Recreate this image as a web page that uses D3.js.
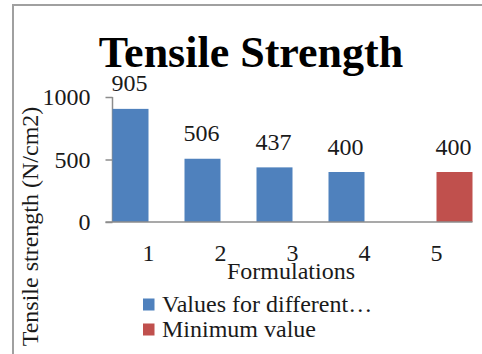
<!DOCTYPE html>
<html>
<head>
<meta charset="utf-8">
<script src="https://cdn.jsdelivr.net/npm/d3@7"></script>
<style>
  html, body { margin: 0; padding: 0; background: #fff; }
  svg { display: block; }
  text { font-family: "Liberation Serif", "Times New Roman", serif; fill: #1a1a1a; }
</style>
</head>
<body>
<svg id="chart" width="482" height="354"></svg>
<script>
// Tensile strength per formulation, with the minimum accepted value
const categories = ["1", "2", "3", "4", "5"];
const seriesNames = ["Values for different…", "Minimum value"];
const seriesColors = ["#4F81BD", "#C0504D"];
// one value per category and series; null = no bar
const formulationValues = [905, 506, 437, 400, null];
const minimumValues = [null, null, null, null, 400];
const yTicks = [0, 500, 1000];

const svg = d3.select("#chart");

// outer frame of the chart area
svg.append("rect")
  .attr("x", 13).attr("y", 5)
  .attr("width", 480).attr("height", 360)
  .attr("fill", "none")
  .attr("stroke", "#a0a0a0")
  .attr("stroke-width", 2);

const plot = { left: 112.5, right: 472.5, top: 97, bottom: 222 };

const x0 = d3.scaleBand()
  .domain(categories)
  .range([plot.left, plot.right])
  .paddingInner(0).paddingOuter(0);

const x1 = d3.scaleBand()
  .domain(seriesNames)
  .range([0, x0.bandwidth()])
  .padding(0);

const y = d3.scaleLinear()
  .domain([0, 1000])
  .range([plot.bottom, plot.top]);

// title
svg.append("text")
  .attr("x", 251).attr("y", 67)
  .attr("text-anchor", "middle")
  .style("font-size", "44px")
  .style("font-weight", "bold")
  .style("fill", "#000")
  .text("Tensile Strength");

// y axis
const yAxis = d3.axisLeft(y)
  .tickValues(yTicks)
  .tickSize(7)
  .tickPadding(15)
  .tickFormat(d3.format("d"));

const gy = svg.append("g")
  .attr("transform", `translate(${plot.left},0)`)
  .call(yAxis);
gy.select(".domain").remove();
gy.append("line")
  .attr("x1", 0).attr("x2", 0)
  .attr("y1", plot.top).attr("y2", plot.bottom)
  .attr("stroke", "#8c8c8c").attr("stroke-width", 1.5);
gy.selectAll(".tick line").attr("stroke", "#8c8c8c").attr("stroke-width", 1.5);
gy.selectAll(".tick text")
  .style("font-size", "24px")
  .style("font-family", "'Liberation Serif', serif")
  .attr("fill", "#1a1a1a");

// bars
const rows = categories.map((c, i) => ({
  cat: c,
  vals: [formulationValues[i], minimumValues[i]]
}));

const groups = svg.append("g").selectAll("g")
  .data(rows)
  .join("g")
  .attr("transform", d => `translate(${x0(d.cat)},0)`);

groups.selectAll("rect")
  .data(d => d.vals.map((v, s) => ({ v, s })).filter(e => e.v !== null))
  .join("rect")
  .attr("x", d => x1(seriesNames[d.s]))
  .attr("y", d => y(d.v))
  .attr("width", x1.bandwidth())
  .attr("height", d => y(0) - y(d.v))
  .attr("fill", d => seriesColors[d.s]);

// value labels above bars
groups.selectAll("text.val")
  .data(d => d.vals.map((v, s) => ({ v, s })).filter(e => e.v !== null))
  .join("text")
  .attr("class", "val")
  .attr("x", d => x1(seriesNames[d.s]) + x1.bandwidth() / 2 - 1)
  .attr("y", d => y(d.v) - 17.5)
  .attr("text-anchor", "middle")
  .style("font-size", "24px")
  .text(d => d.v);

// x axis
const xAxis = d3.axisBottom(x0).tickSize(0).tickPadding(22);
const gx = svg.append("g")
  .attr("transform", `translate(0,${plot.bottom})`)
  .call(xAxis);
gx.select(".domain").remove();
gx.append("line")
  .attr("x1", plot.left - 7).attr("x2", plot.right)
  .attr("y1", 0).attr("y2", 0)
  .attr("stroke", "#8c8c8c").attr("stroke-width", 1.5);
gx.selectAll(".tick text")
  .style("font-size", "24px")
  .style("font-family", "'Liberation Serif', serif")
  .attr("fill", "#1a1a1a")
  .attr("dy", null)
  .attr("y", 38.5);

// axis titles
svg.append("text")
  .attr("x", 291).attr("y", 279)
  .attr("text-anchor", "middle")
  .style("font-size", "24px")
  .text("Formulations");

svg.append("text")
  .attr("transform", "translate(38,226.5) rotate(-90)")
  .attr("text-anchor", "middle")
  .style("font-size", "24px")
  .text("Tensile strength (N/cm2)");

// legend
const legend = svg.append("g").selectAll("g")
  .data(seriesNames)
  .join("g")
  .attr("transform", (d, i) => `translate(143,${298.5 + i * 25})`);
legend.append("rect")
  .attr("width", 11.5).attr("height", 12)
  .attr("fill", (d, i) => seriesColors[i]);
legend.append("text")
  .attr("x", 19).attr("y", 13.5)
  .style("font-size", "24px")
  .text(d => d);
</script>
</body>
</html>
